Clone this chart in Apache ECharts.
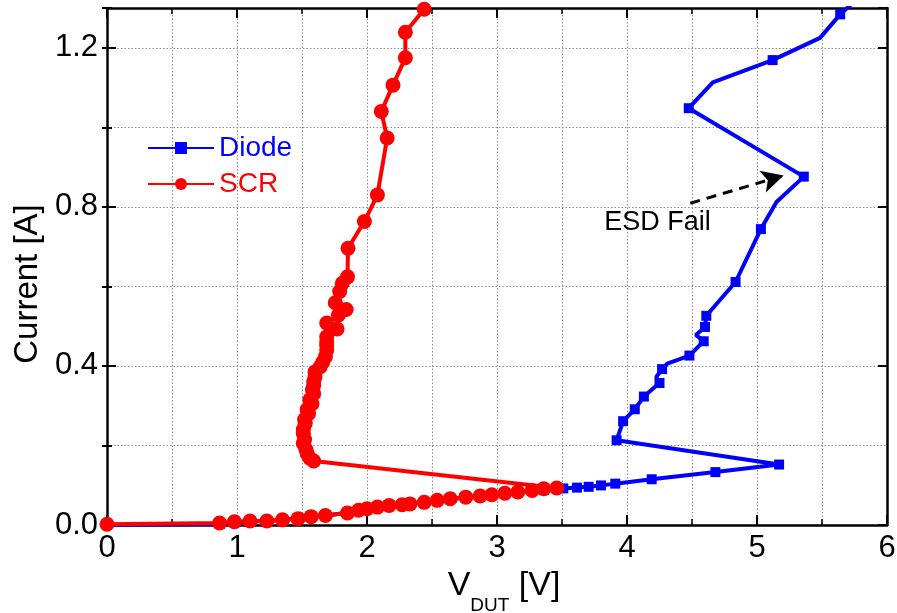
<!DOCTYPE html>
<html>
<head>
<meta charset="utf-8">
<script src="https://cdn.jsdelivr.net/npm/echarts@6/dist/echarts.min.js"></script>
<style>html,body{margin:0;padding:0;background:#fff}#c{width:897px;height:613px}</style>
</head>
<body>
<div id="c"></div>
<script>
// ---- data ----
const diodeV = [0, 0.87, 0.98, 1.10, 1.23, 1.35, 1.47, 1.57, 1.68, 1.85, 2.00, 2.17, 2.33, 2.54, 2.76, 2.96, 3.16, 3.36, 3.51, 3.615, 3.705, 3.80, 3.91, 4.19, 4.68, 5.17, 3.92, 3.97, 4.06, 4.13, 4.25, 4.225, 4.27, 4.31, 4.48, 4.59, 4.53, 4.60, 4.61, 4.835, 5.03, 5.15, 5.36, 4.475, 4.66, 5.12, 5.485, 5.64, 5.76];
const diodeI = [0, 0.003, 0.006, 0.008, 0.010, 0.013, 0.016, 0.020, 0.024, 0.031, 0.039, 0.047, 0.053, 0.061, 0.069, 0.075, 0.082, 0.088, 0.092, 0.094, 0.096, 0.0995, 0.104, 0.115, 0.133, 0.152, 0.213, 0.261, 0.291, 0.323, 0.357, 0.372, 0.392, 0.406, 0.426, 0.462, 0.478, 0.498, 0.526, 0.611, 0.744, 0.812, 0.876, 1.048, 1.113, 1.169, 1.225, 1.284, 1.32];
const diodeMarked = [1,1,1,1,1,1,1,1,1,1,1,1,1,1,1,1,1,1,1,1,1,1,1,1,1,1,1,1,1,1,1,0,1,0,1,1,0,1,1,1,1,0,1,1,0,1,0,1,0];

const scrV = [0, 0.866, 0.98, 1.10, 1.23, 1.35, 1.47, 1.57, 1.68, 1.85, 1.935, 2.00, 2.08, 2.17, 2.27, 2.33, 2.44, 2.54, 2.64, 2.76, 2.87, 2.96, 3.06, 3.16, 3.27, 3.36, 3.46,
  1.59, 1.56, 1.54, 1.53, 1.51, 1.52, 1.51, 1.51, 1.525, 1.52, 1.55, 1.54, 1.577, 1.56, 1.59, 1.58, 1.59, 1.59, 1.60, 1.60, 1.64, 1.66, 1.68, 1.69, 1.69, 1.69, 1.69, 1.77, 1.69, 1.78, 1.84, 1.756, 1.79, 1.81, 1.85, 1.854, 1.98, 2.08, 2.155, 2.11, 2.20, 2.295, 2.295, 2.44];
const scrI = [0.002, 0.005, 0.008, 0.010, 0.010, 0.013, 0.016, 0.021, 0.024, 0.030, 0.037, 0.041, 0.045, 0.049, 0.051, 0.053, 0.057, 0.062, 0.066, 0.070, 0.073, 0.076, 0.080, 0.083, 0.087, 0.091, 0.093,
  0.161, 0.168, 0.179, 0.190, 0.205, 0.215, 0.230, 0.240, 0.255, 0.265, 0.280, 0.290, 0.305, 0.315, 0.330, 0.340, 0.351, 0.360, 0.372, 0.385, 0.398, 0.410, 0.423, 0.440, 0.452, 0.460, 0.473, 0.493, 0.508, 0.528, 0.542, 0.559, 0.587, 0.608, 0.624, 0.696, 0.763, 0.830, 0.973, 1.040, 1.106, 1.175, 1.239, 1.297];

const yLabelValues = [0.0, 0.4, 0.8, 1.2];
const xLabelValues = [0, 1, 2, 3, 4, 5, 6];
const esdArrowFrom = [4.487, 0.809];
const esdArrowTo = [5.205, 0.879];
const esdLabelAt = [4.235, 0.761];
const esdLabel = 'ESD Fail';

// ---- chart ----
const FONT = 'Liberation Sans, Arial, Helvetica, sans-serif';
const chart = echarts.init(document.getElementById('c'), null, {renderer: 'canvas'});

const gridLine = {show: true, lineStyle: {color: '#8c8c8c', type: [1.5, 2], width: 1}};
const axisLineStyle = {show: true, onZero: false, lineStyle: {color: '#000', width: 2.5}};
const noLine = {show: false};

function yAux(position, interval, tickLen, withSplit) {
  return {
    type: 'value', min: 0, max: 1.3, interval: interval, position: position,
    axisLine: noLine,
    axisTick: {show: true, inside: true, length: tickLen, lineStyle: {color: '#000', width: 2}},
    splitLine: withSplit ? gridLine : {show: false},
    axisLabel: {show: false}
  };
}

const option = {
  animation: false,
  backgroundColor: '#fff',
  grid: {left: 107, right: 10, top: 8, bottom: 88, containLabel: false, outerBoundsMode: 'none'},
  legend: {
    left: 142, top: 129, orient: 'vertical',
    itemWidth: 66, itemHeight: 15, itemGap: 8,
    data: [
      {name: 'Diode', textStyle: {color: '#0000ff'}},
      {name: 'SCR', textStyle: {color: '#ff0000'}}
    ],
    textStyle: {fontFamily: FONT, fontSize: 28}
  },
  xAxis: [
    {
      type: 'value', min: 0, max: 6, interval: 1, position: 'bottom',
      name: 'V{sub|DUT} [V]', nameLocation: 'middle', nameGap: 40,
      nameTextStyle: {fontFamily: FONT, fontSize: 34, color: '#000', padding: [0, 0, 0, 14],
        rich: {sub: {fontFamily: FONT, fontSize: 19, color: '#000', verticalAlign: 'bottom', padding: [0, 0, -12, 0]}}},
      axisLine: axisLineStyle,
      axisTick: {show: true, inside: true, length: 10, lineStyle: {color: '#000', width: 2}},
      minorTick: {show: true, splitNumber: 2, length: 6, lineStyle: {color: '#000', width: 1.5}},
      splitLine: gridLine,
      minorSplitLine: gridLine,
      axisLabel: {fontFamily: FONT, fontSize: 31, color: '#000', margin: 8,
        formatter: v => xLabelValues.indexOf(Math.round(v)) >= 0 ? String(Math.round(v)) : ''}
    },
    {
      type: 'value', min: 0, max: 6, interval: 1, position: 'top',
      axisLine: axisLineStyle,
      axisTick: {show: true, inside: true, length: 10, lineStyle: {color: '#000', width: 2}},
      minorTick: {show: true, splitNumber: 2, length: 6, lineStyle: {color: '#000', width: 1.5}},
      splitLine: {show: false}, axisLabel: {show: false}
    }
  ],
  yAxis: [
    {
      type: 'value', min: 0, max: 1.3, interval: 0.4, position: 'left',
      name: 'Current [A]', nameLocation: 'middle', nameGap: 62, nameRotate: 90,
      nameTextStyle: {fontFamily: FONT, fontSize: 33, color: '#000', padding: [0, 35, 0, 0]},
      axisLine: axisLineStyle,
      axisTick: {show: true, inside: true, length: 9, lineStyle: {color: '#000', width: 2}},
      splitLine: {show: false},
      axisLabel: {fontFamily: FONT, fontSize: 31, color: '#000', margin: 9, showMaxLabel: false,
        formatter: v => yLabelValues.some(t => Math.abs(t - v) < 1e-6) ? v.toFixed(1) : ''}
    },
    yAux('left', 0.2, 5, true),
    Object.assign(yAux('right', 0.4, 9, false), {axisLine: axisLineStyle}),
    yAux('right', 0.2, 5, false)
  ],
  series: [
    {
      name: 'Diode', type: 'line', xAxisIndex: 0, yAxisIndex: 0,
      symbol: 'rect', symbolSize: 10, showSymbol: true, showAllSymbol: true,
      color: '#0000ff',
      lineStyle: {color: '#0000ff', width: 4},
      itemStyle: {color: '#0000ff'},
      data: diodeV.map((v, i) => diodeMarked[i] ? [v, diodeI[i]] : {value: [v, diodeI[i]], symbol: 'none'}),
      markLine: {
        silent: true, symbol: ['none', 'arrow'], symbolSize: [17, 22],
        lineStyle: {color: '#000', width: 3, type: [10, 7]},
        label: {show: false},
        data: [[{coord: esdArrowFrom}, {coord: esdArrowTo}]]
      },
      markPoint: {
        silent: true, symbol: 'circle', symbolSize: 0,
        label: {show: true, position: 'inside', formatter: esdLabel, fontFamily: FONT, fontSize: 27, color: '#000'},
        data: [{coord: esdLabelAt}]
      },
      z: 2
    },
    {
      name: 'SCR', type: 'line', xAxisIndex: 0, yAxisIndex: 0,
      symbol: 'circle', symbolSize: 15, showSymbol: true, showAllSymbol: true,
      color: '#ff0000',
      lineStyle: {color: '#ff0000', width: 4},
      itemStyle: {color: '#ff0000'},
      data: scrV.map((v, i) => [v, scrI[i]]),
      z: 3
    }
  ]
};
chart.setOption(option);
</script>
</body>
</html>
